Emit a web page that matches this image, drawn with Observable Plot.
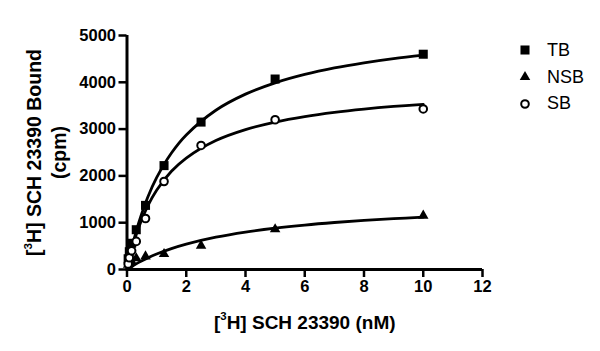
<!DOCTYPE html>
<html><head><meta charset="utf-8">
<script src="https://cdn.jsdelivr.net/npm/d3@7"></script>
<script src="https://cdn.jsdelivr.net/npm/@observablehq/plot@0.6"></script>
<style>
body{margin:0;background:#fff;}
#wrap{position:relative;width:600px;height:351px;font-family:"Liberation Sans",Arial,sans-serif;}
#legend{position:absolute;left:516px;top:37px;}
.row{display:flex;align-items:center;height:26.8px;font-size:18px;color:#000;}
.row svg{width:18px;height:18px;margin-right:13px;overflow:visible}
</style></head><body><div id="wrap"><div id="legend"></div></div>
<script>
// measured points
const conc = [0.039, 0.078, 0.156, 0.3125, 0.625, 1.25, 2.5, 5, 10];
const tbValues = [230, 380, 560, 850, 1370, 2220, 3150, 4070, 4600];
const nsbValues = [100, 140, 170, 240, 280, 330, 510, 860, 1150];
const sbValues = [120, 250, 400, 600, 1090, 1880, 2650, 3200, 3430];
// fitted curves
const curveX = [0, 0.1, 0.2, 0.4, 0.7, 1, 1.5, 2, 3, 4, 5, 6, 7, 8, 9, 10];
const tbCurve = [0, 292, 554, 1005, 1543, 1962, 2489, 2875, 3403, 3747, 3989, 4168, 4307, 4416, 4506, 4580];
const sbCurve = [0, 273, 511, 907, 1357, 1694, 2098, 2382, 2756, 2990, 3151, 3268, 3357, 3427, 3484, 3530];
const nsbCurve = [0, 41, 80, 152, 247, 330, 446, 542, 690, 799, 883, 950, 1004, 1049, 1086, 1118];
const xTicks = [0, 2, 4, 6, 8, 10, 12];
const yTicks = [0, 1000, 2000, 3000, 4000, 5000];
const seriesNames = ["TB", "NSB", "SB"];
const xLabel = "[³H] SCH 23390 (nM)";
const yLabelLines = ["[³H] SCH 23390 Bound", "(cpm)"];

const pts = vals => conc.map((c, i) => ({x: c, y: vals[i]}));
const crv = vals => curveX.map((c, i) => ({x: c, y: vals[i]}));

const plot = Plot.plot({
  width: 600, height: 351,
  marginLeft: 126.5, marginRight: 118, marginTop: 35, marginBottom: 82,
  x: {domain: [0, 12]},
  y: {domain: [0, 5000]},
  style: {fontFamily: '"Liberation Sans", Arial, sans-serif', fontSize: "16px", fontWeight: "bold", background: "white", color: "black"},
  marks: [
    Plot.axisX({ticks: xTicks, tickSize: 8, tickPadding: 3, strokeWidth: 2.5, label: null, fontSize: 16.5, fontWeight: "bold", tickFormat: d => String(d)}),
    Plot.axisY({ticks: yTicks, tickSize: 8, tickPadding: 3, strokeWidth: 2.5, label: null, fontSize: 16.5, fontWeight: "bold", tickFormat: d => String(d)}),
    Plot.ruleX([0], {strokeWidth: 3}),
    Plot.ruleY([0], {strokeWidth: 3}),
    Plot.line(crv(tbCurve), {x: "x", y: "y", curve: "catmull-rom", strokeWidth: 2.8, stroke: "black"}),
    Plot.line(crv(sbCurve), {x: "x", y: "y", curve: "catmull-rom", strokeWidth: 2.8, stroke: "black"}),
    Plot.line(crv(nsbCurve), {x: "x", y: "y", curve: "catmull-rom", strokeWidth: 2.8, stroke: "black"}),
    Plot.dot(pts(tbValues), {x: "x", y: "y", symbol: "square", r: 5.1, fill: "black"}),
    Plot.dot(pts(nsbValues), {x: "x", y: "y", symbol: "triangle", r: 3.9, fill: "black"}),
    Plot.dot(pts(sbValues), {x: "x", y: "y", symbol: "circle", r: 3.8, fill: "white", stroke: "black", strokeWidth: 2}),
    Plot.text([xLabel], {text: d => d, frameAnchor: "bottom", textAnchor: "middle", dy: 59, fontSize: 19, fontWeight: "bold"}),
    Plot.text([yLabelLines[0]], {text: d => d, frameAnchor: "left", textAnchor: "middle", dx: -92, rotate: -90, fontSize: 19.5, fontWeight: "bold"}),
    Plot.text([yLabelLines[1]], {text: d => d, frameAnchor: "left", textAnchor: "middle", dx: -67, rotate: -90, fontSize: 19.5, fontWeight: "bold"})
  ]
});
document.getElementById("wrap").prepend(plot);

// render the ³ as a real superscript
d3.select(plot).selectAll("text").each(function () {
  const t = d3.select(this);
  const s = t.text();
  if (!s.startsWith("[³H]")) return;
  t.text(null);
  t.append("tspan").text("[");
  t.append("tspan").attr("font-size", "0.6em").attr("dy", "-0.75em").text("3");
  t.append("tspan").attr("dy", "0.45em").text(s.slice(2));
});

// legend
const legend = d3.select("#legend");
seriesNames.forEach((name, i) => {
  const row = legend.append("div").attr("class", "row");
  const svg = row.append("svg").attr("viewBox", "-9 -9 18 18");
  if (i === 0) svg.append("path").attr("d", d3.symbol(d3.symbolSquare, Math.PI * 5.1 * 5.1)()).attr("fill", "black");
  else if (i === 1) svg.append("path").attr("d", d3.symbol(d3.symbolTriangle, Math.PI * 3.9 * 3.9)()).attr("fill", "black");
  else svg.append("circle").attr("r", 3.8).attr("fill", "white").attr("stroke", "black").attr("stroke-width", 2);
  row.append("span").text(name);
});
</script></body></html>
